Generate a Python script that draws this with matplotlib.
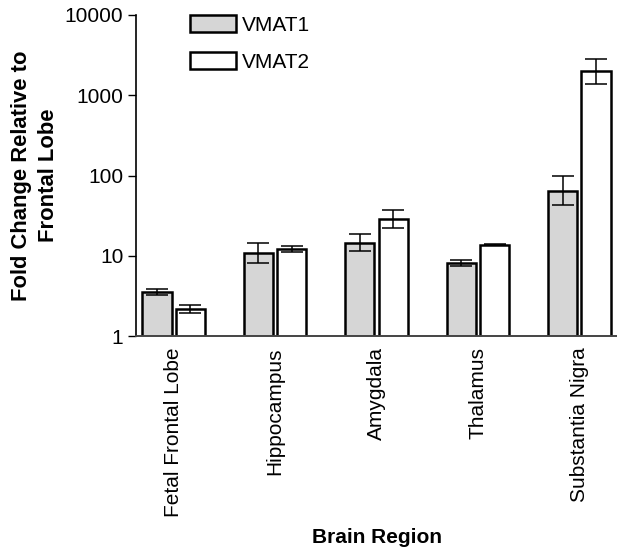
import numpy as np
import matplotlib
matplotlib.use("Agg")
import matplotlib.pyplot as plt

plt.rcParams['font.family'] = ['Liberation Sans', 'DejaVu Sans']

## values (log scale)
regions = ["Fetal Frontal Lobe", "Hippocampus", "Amygdala", "Thalamus", "Substantia Nigra"]
vmat1 = [3.5, 10.8, 14.4, 8.1, 64.7]
vmat1_hi = [3.85, 14.4, 18.6, 8.8, 99.5]
vmat1_lo = [3.25, 8.1, 11.4, 7.4, 42.5]
vmat2 = [2.17, 12.1, 28.7, 13.7, 1990]
vmat2_hi = [2.43, 13.2, 37.0, 13.9, 2830]
vmat2_lo = [1.93, 11.1, 22.2, 13.5, 1380]

x = np.arange(len(regions))
w = 0.29
off = 0.165

fig = plt.figure(figsize=(6.17, 5.47), dpi=100)
ax = fig.add_axes([0.2204, 0.3857, 0.7796, 0.5869])

def draw(vals, hi, lo, pos, col, lab):
    vals = np.array(vals)
    yerr = [vals - np.array(lo), np.array(hi) - vals]
    ax.bar(pos, vals, width=w, color=col, edgecolor="black", linewidth=1.8, label=lab, zorder=2)
    ax.errorbar(pos, vals, yerr=yerr, fmt="none", ecolor="black", elinewidth=1.1,
                capsize=8, capthick=1.1, zorder=3)

draw(vmat1, vmat1_hi, vmat1_lo, x - off, "#d6d6d6", "VMAT1")
draw(vmat2, vmat2_hi, vmat2_lo, x + off, "white", "VMAT2")

ax.set_yscale("log")
ax.set_ylim(1, 10000)
ax.set_xlim(-0.37, 4.37)
ax.set_yticks([1, 10, 100, 1000, 10000])
ax.set_yticklabels(["1", "10", "100", "1000", "10000"])
ax.yaxis.set_minor_locator(matplotlib.ticker.NullLocator())
ax.tick_params(axis="y", length=6, width=1, labelsize=15, pad=3)
ax.set_xticks(x)
ax.set_xticklabels(regions, rotation=90, fontsize=15)
ax.tick_params(axis="x", length=0, pad=8)

for s in ["top", "right"]:
    ax.spines[s].set_visible(False)
ax.spines["left"].set_linewidth(1.2)
ax.spines["bottom"].set_linewidth(1.4)
ax.spines["bottom"].set_color("#444444")

ax.set_ylabel("Fold Change Relative to\nFrontal Lobe", fontsize=15.8, fontweight="bold",
              linespacing=1.4, va="center")
ax.yaxis.set_label_coords(-0.21, 0.5)
fig.text(0.611, 0.018, "Brain Region", fontsize=15, fontweight="bold", ha="center", va="center")

leg = ax.legend(loc="upper left", bbox_to_anchor=(0.112, 1.0), frameon=False, fontsize=15,
                handlelength=2.2, handleheight=0.85, labelspacing=0.85, handletextpad=0.3,
                borderpad=0, borderaxespad=0)

fig.savefig("out.png", dpi=100)
